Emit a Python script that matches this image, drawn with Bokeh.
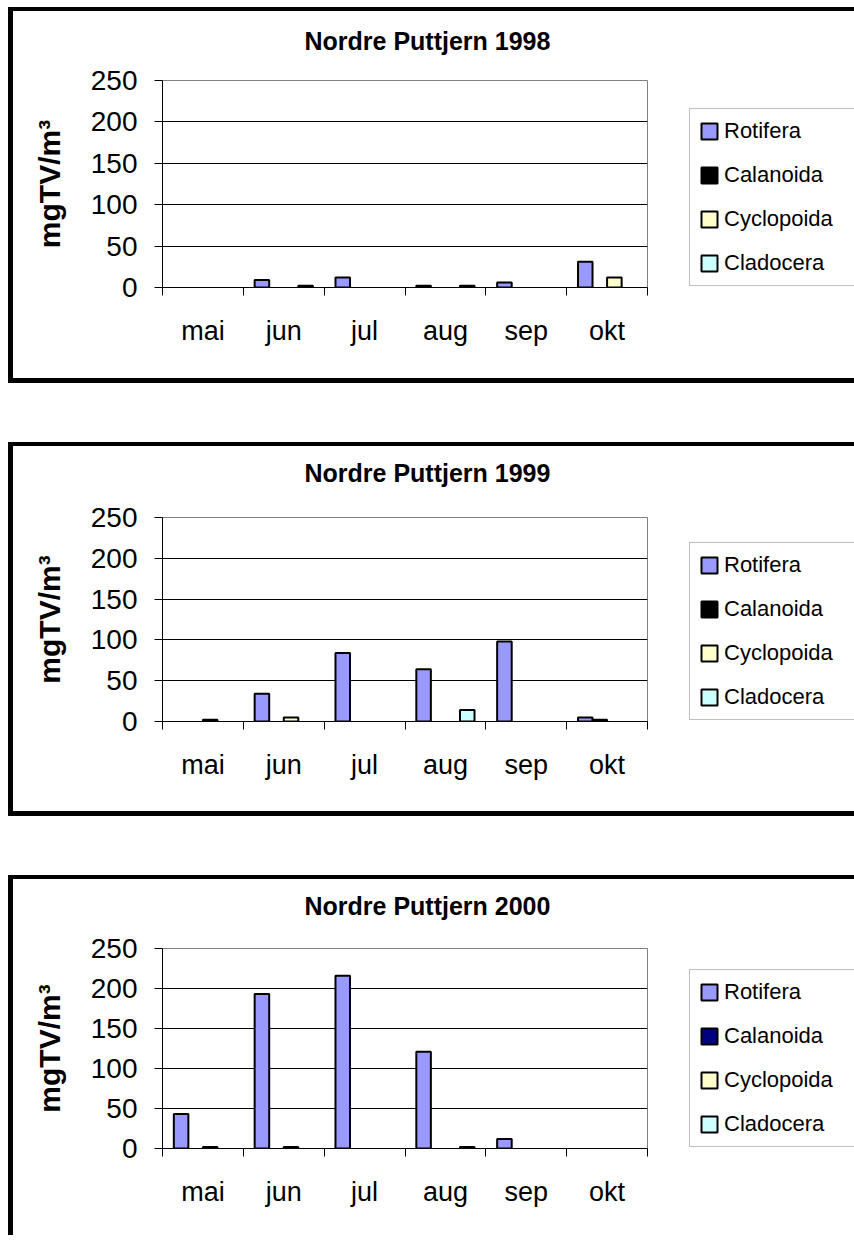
import numpy as np
from bokeh.plotting import figure
from bokeh.models import Range1d, FixedTicker, Legend, LegendItem, ColumnDataSource, Title
from bokeh.transform import dodge
from bokeh.layouts import column, row
from bokeh.embed import file_html
from bokeh.resources import INLINE

# ---------------- data ----------------
months = ["mai", "jun", "jul", "aug", "sep", "okt"]
series = ["Rotifera", "Calanoida", "Cyclopoida", "Cladocera"]
titles = ["Nordre Puttjern 1998", "Nordre Puttjern 1999", "Nordre Puttjern 2000"]
y_label = "mgTV/m³"
y_ticks = [0, 50, 100, 150, 200, 250]

rotifera_1998 = [0, 9, 12, 2, 6, 31]
calanoida_1998 = [0, 0, 0, 0, 0, 0]
cyclopoida_1998 = [0, 0, 0, 0, 0, 12]
cladocera_1998 = [0, 2, 0, 2, 0, 0]

rotifera_1999 = [0, 34, 84, 64, 98, 5]
calanoida_1999 = [0, 0, 0, 0, 0, 2]
cyclopoida_1999 = [2, 5, 0, 0, 0, 0]
cladocera_1999 = [0, 0, 0, 14, 0, 0]

rotifera_2000 = [43, 193, 216, 121, 12, 0]
calanoida_2000 = [0, 0, 0, 0, 0, 0]
cyclopoida_2000 = [2, 2, 0, 0, 0, 0]
cladocera_2000 = [0, 0, 0, 2, 0, 0]

colors_a = ["#9999FF", "#000000", "#FFFFCC", "#CCFFFF"]
colors_b = ["#9999FF", "#000080", "#FFFFCC", "#CCFFFF"]

FONT = "Liberation Sans"

panels = [
    dict(title=titles[0], data=[rotifera_1998, calanoida_1998, cyclopoida_1998, cladocera_1998],
         colors=colors_a, height=376, mbt=69, mbb=100, gap=23, bottom_border=True),
    dict(title=titles[1], data=[rotifera_1999, calanoida_1999, cyclopoida_1999, cladocera_1999],
         colors=colors_a, height=374, mbt=71, mbb=99, gap=28, bottom_border=True),
    dict(title=titles[2], data=[rotifera_2000, calanoida_2000, cyclopoida_2000, cladocera_2000],
         colors=colors_b, height=360, mbt=69, mbb=91, gap=26, bottom_border=False),
]

offsets = [-0.27, -0.09, 0.09, 0.27]
bar_w = 0.18
PLOT_W = 672
LEG_W = 174


def make_panel(cfg):
    styles = {"border-left": "5px solid black", "border-top": "4px solid black"}
    if cfg["bottom_border"]:
        styles["border-bottom"] = "5px solid black"
    p = figure(width=PLOT_W, height=cfg["height"], x_range=Range1d(0, 6), y_range=Range1d(0, 250),
               output_backend="svg", toolbar_location=None, title_location=None,
               min_border_left=149, min_border_right=38,
               min_border_top=cfg["mbt"], min_border_bottom=cfg["mbb"],
               styles=styles)
    p.background_fill_color = "white"
    p.border_fill_color = "white"
    p.outline_line_color = "#808080"
    p.outline_line_width = 1

    # spacer between frame and title, then the title itself (stacked outwards)
    p.add_layout(Title(text=" ", text_font_size="1px", standoff=cfg["gap"]), "above")
    p.add_layout(Title(text=cfg["title"], align="left", offset=142, text_font=FONT,
                       text_font_size="25px", text_font_style="bold", text_color="black",
                       standoff=0), "above")

    centers = np.arange(len(months)) + 0.5
    for k, name in enumerate(series):
        vals = cfg["data"][k]
        xs = [float(c) for c, v in zip(centers, vals) if v > 0]
        ys = [float(v) for v in vals if v > 0]
        src = ColumnDataSource(dict(x=xs, top=ys))
        p.vbar(x=dodge("x", offsets[k]), top="top", bottom=0, width=bar_w, source=src,
               fill_color=cfg["colors"][k], line_color="black", line_width=2)

    # x axis: labels at category centres, ticks at category boundaries
    xa = p.xaxis[0]
    xa.ticker = FixedTicker(ticks=list(centers), minor_ticks=list(range(len(months) + 1)))
    xa.major_label_overrides = {float(c): m for c, m in zip(centers, months)}
    xa.major_tick_out = 0
    xa.major_tick_in = 0
    xa.minor_tick_out = 8
    xa.minor_tick_in = 0
    xa.minor_tick_line_color = "black"
    xa.axis_line_color = "black"
    xa.major_label_text_font = FONT
    xa.major_label_text_font_size = "27px"
    xa.major_label_text_color = "black"
    xa.major_label_standoff = 20

    ya = p.yaxis[0]
    ya.ticker = FixedTicker(ticks=y_ticks)
    ya.major_tick_out = 8
    ya.major_tick_in = 0
    ya.minor_tick_line_color = None
    ya.major_tick_line_color = "black"
    ya.axis_line_color = "black"
    ya.major_label_text_font = FONT
    ya.major_label_text_font_size = "28px"
    ya.major_label_text_color = "black"
    ya.major_label_standoff = 17
    ya.axis_label = y_label
    ya.axis_label_text_font = FONT
    ya.axis_label_text_font_size = "30px"
    ya.axis_label_text_font_style = "bold"
    ya.axis_label_text_color = "black"
    ya.axis_label_standoff = 22

    p.xgrid.visible = False
    p.ygrid.ticker = FixedTicker(ticks=y_ticks[1:-1])
    p.ygrid.grid_line_color = "black"
    p.ygrid.grid_line_width = 1

    # ---- legend panel (continues the frame border on top / bottom) ----
    lstyles = {"border-top": "4px solid black"}
    if cfg["bottom_border"]:
        lstyles["border-bottom"] = "5px solid black"
    lg = figure(width=LEG_W, height=cfg["height"], x_range=Range1d(0, 1), y_range=Range1d(0, 1),
                output_backend="svg", toolbar_location=None, title_location=None,
                x_axis_location=None, y_axis_location=None, min_border=0, styles=lstyles)
    lg.outline_line_color = None
    lg.grid.visible = False
    lg.background_fill_color = "white"
    lg.border_fill_color = "white"
    items = []
    for k, name in enumerate(series):
        sw = lg.vbar(x=[0.5], top=[float("nan")], bottom=0, width=0.5,
                     fill_color=cfg["colors"][k], line_color="black", line_width=2)
        items.append(LegendItem(label=name, renderers=[sw]))
    leg = Legend(items=items, location=(9, 1))
    leg.label_text_font = FONT
    leg.label_text_font_size = "22px"
    leg.label_text_color = "black"
    leg.glyph_width = 20
    leg.glyph_height = 20
    leg.label_height = 22
    leg.label_width = 122
    leg.label_standoff = 5
    leg.padding = 9
    leg.spacing = 18
    leg.margin = 0
    leg.border_line_color = "#808080"
    leg.border_line_width = 1
    leg.background_fill_color = "white"
    leg.background_fill_alpha = 1.0
    lg.add_layout(leg)
    return row(p, lg, spacing=0)


rows = [make_panel(c) for c in panels]
layout = column(*rows, spacing=59, margin=(7, 0, 0, 8))

open("out.html", "w").write(file_html(layout, INLINE))
